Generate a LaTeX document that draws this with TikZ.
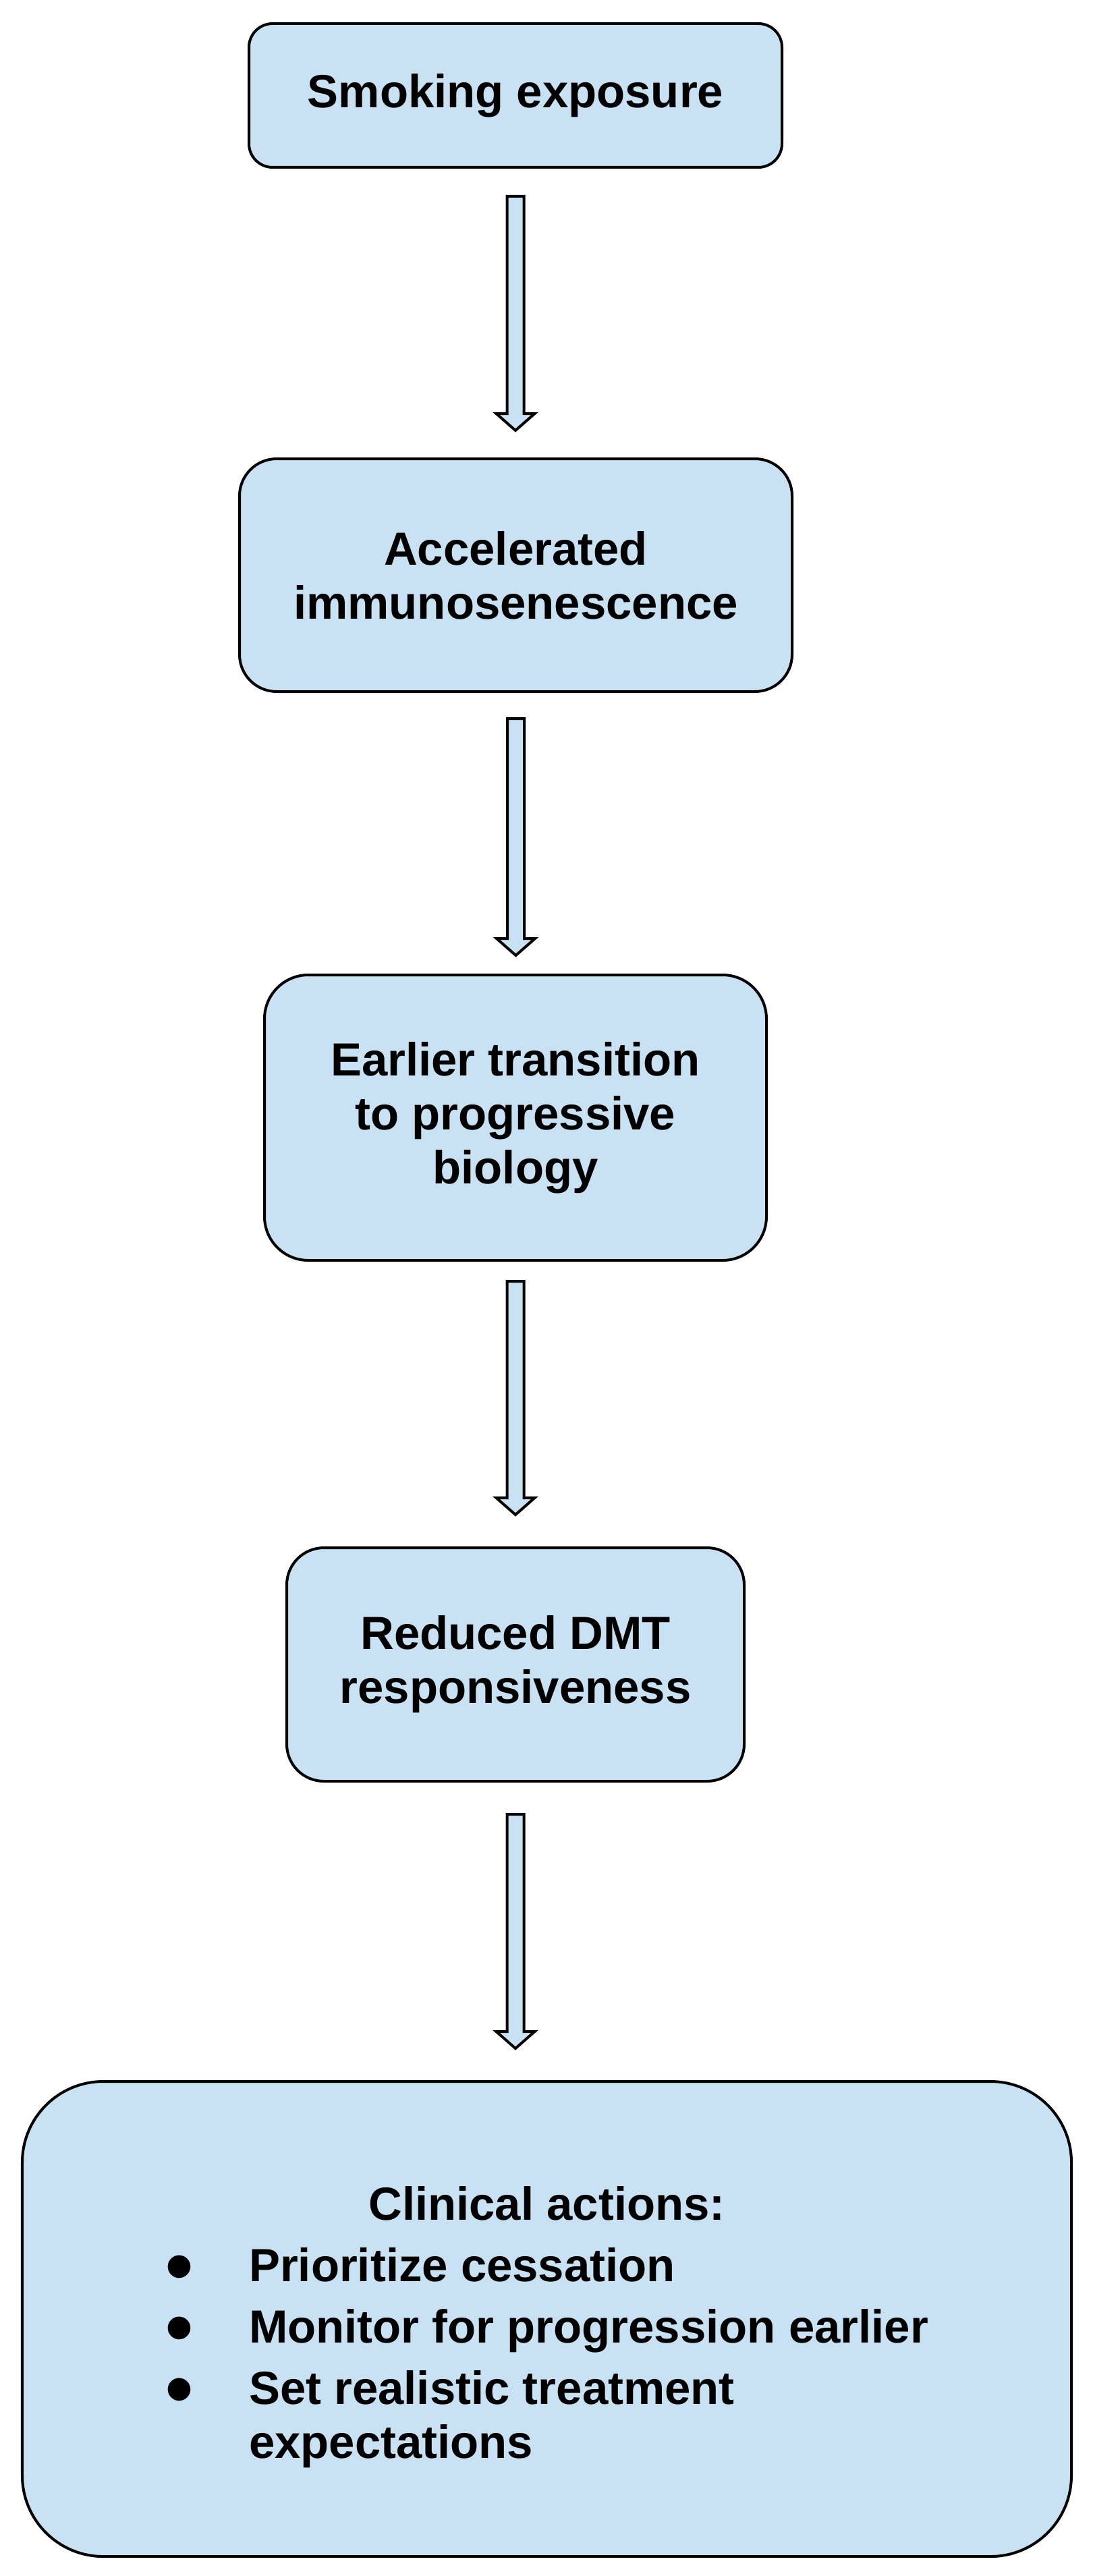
\documentclass[tikz,border=0pt]{standalone}
\usepackage{fontspec}
\setmainfont{Liberation Sans}
\usetikzlibrary{calc}
\usepackage{xcolor}
\definecolor{flowfill}{RGB}{201,226,243}
\tikzset{
  box/.style        = {draw=black, line width=0.4mm, fill=flowfill, align=center,
                       font=\fontsize{19.6pt}{22.8pt}\selectfont\bfseries, inner sep=0pt},
  blockarrow/.style = {draw=black, line width=0.4mm, fill=flowfill, line join=miter},
}
\newcommand{\bigbullet}{\raisebox{-1.7mm}{\scalebox{1.7}{\textbullet}}}

\begin{document}
\begin{tikzpicture}[x=1mm, y=1mm]
  \useasboundingbox (0,0) rectangle (161.9,-381.8);
  % flow boxes
  \node[box, minimum width=79.0mm, minimum height=21.3mm, rounded corners=3.5mm]
    (smoke) at (76.4,-14.15) {Smoking exposure};
  \node[box, minimum width=81.9mm, minimum height=34.5mm, rounded corners=5.5mm]
    (immuno) at (76.45,-85.25) {Accelerated\\immunosenescence};
  \node[box, minimum width=74.4mm, minimum height=42.3mm, rounded corners=6.5mm]
    (trans) at (76.4,-165.65) {Earlier transition\\to progressive\\biology};
  \node[box, minimum width=67.8mm, minimum height=34.6mm, rounded corners=5.5mm]
    (dmt) at (76.4,-246.7) {Reduced DMT\\responsiveness};
  \node[box, minimum width=155.5mm, minimum height=70.4mm, rounded corners=12mm]
    (actions) at (81.05,-343.7) {\rule{0pt}{8.4mm}Clinical actions:\\[1.1mm]
      \begin{tabular}[t]{@{}p{12.4mm}@{}l@{}}
        \bigbullet & Prioritize cessation\\[1.1mm]
        \bigbullet & Monitor for progression earlier\\[1.1mm]
        \bigbullet & Set realistic treatment\\
                   & expectations
      \end{tabular}};
  % block arrows between the boxes
  \foreach \a/\b/\s/\e in {smoke/immuno/4.1/4.0, immuno/trans/3.8/2.7,
                           trans/dmt/2.9/4.7, dmt/actions/4.7/4.7} {
    \draw[blockarrow] ($(\a.south)+(-1.25,-\s)$)
      -- ($(\a.south |- \b.north)+(-1.25,\e+2.5)$)
      -- ($(\a.south |- \b.north)+(-2.85,\e+2.5)$)
      -- ($(\a.south |- \b.north)+(0,\e)$)
      -- ($(\a.south |- \b.north)+(2.85,\e+2.5)$)
      -- ($(\a.south |- \b.north)+(1.25,\e+2.5)$)
      -- ($(\a.south)+(1.25,-\s)$) -- cycle;
  }
\end{tikzpicture}
\end{document}
